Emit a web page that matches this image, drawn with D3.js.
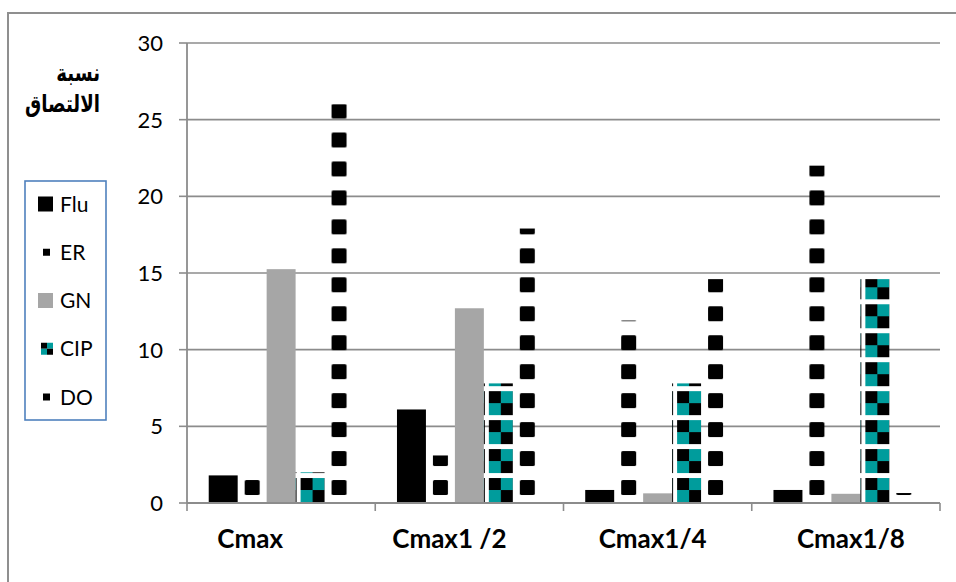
<!DOCTYPE html>
<html>
<head>
<meta charset="utf-8">
<script src="https://cdn.jsdelivr.net/npm/d3@7"></script>
<style>
  html, body { margin: 0; padding: 0; background: #fff; }
  svg { display: block; }
</style>
</head>
<body>
<svg id="chart" width="956" height="582"></svg>
<script>
// Adhesion ratio per antibiotic at each concentration
const categories = ["Cmax", "Cmax1 /2", "Cmax1/4", "Cmax1/8"];
const seriesNames = ["Flu", "ER", "GN", "CIP", "DO"];
const fluValues = [1.8, 6.1, 0.85, 0.85];
const erValues = [1.6, 3.1, 11.9, 22.0];
const gnValues = [15.25, 12.7, 0.63, 0.6];
const cipValues = [2.0, 7.8, 7.8, 14.6];
const doValues = [26.0, 17.9, 14.6, 0.65];
const yTickValues = [0, 5, 10, 15, 20, 25, 30];
const titleLines = ["نسبة", "الالتصاق"];

const seriesValues = [fluValues, erValues, gnValues, cipValues, doValues];

// fill kinds: solid, dotted squares, checker tiles
const fillKind = { Flu: "solid", ER: "dots", GN: "solid", CIP: "checker", DO: "dots" };
const solidColor = { Flu: "#000000", GN: "#a6a6a6" };
const teal = "#009c9c";
const gridColor = "#8c8c8c";

const svg = d3.select("#chart");
svg.append("rect").attr("width", 956).attr("height", 582).attr("fill", "#fff");

// outer frame
svg.append("path")
  .attr("d", "M8,582V13H956")
  .attr("fill", "none")
  .attr("stroke", "#8f8f8f")
  .attr("stroke-width", 2);

const plot = { left: 187, right: 940, top: 43, bottom: 503 };

const y = d3.scaleLinear().domain([0, 30]).range([plot.bottom, plot.top]);
const x0 = d3.scaleBand().domain(categories).range([plot.left, plot.right]).paddingInner(0).paddingOuter(0);
const x1 = d3.scaleBand().domain(seriesNames).range([0, x0.bandwidth()]).paddingInner(0).paddingOuter(0.75);

// gridlines
svg.append("g").selectAll("line")
  .data(yTickValues.filter(d => d > 0))
  .join("line")
  .attr("x1", plot.left).attr("x2", plot.right)
  .attr("y1", d => y(d)).attr("y2", d => y(d))
  .attr("stroke", gridColor).attr("stroke-width", 1.6);

// patterns, one per patterned bar so each tile lines up with its bar
const defs = svg.append("defs");
const bw = x1.bandwidth();
const tile = bw;
const rows = [];
categories.forEach((c, ci) => {
  seriesNames.forEach((s, si) => {
    rows.push({ cat: c, ci, series: s, value: seriesValues[si][ci] });
  });
});

rows.filter(r => fillKind[r.series] !== "solid").forEach(r => {
  const bx = x0(r.cat) + x1(r.series);
  const p = defs.append("pattern")
    .attr("id", `pat-${r.series}-${r.ci}`)
    .attr("patternUnits", "userSpaceOnUse")
    .attr("x", bx).attr("y", y(0))
    .attr("width", tile).attr("height", tile);
  if (fillKind[r.series] === "dots") {
    p.append("rect")
      .attr("x", 7).attr("y", 6).attr("width", 15).attr("height", 15)
      .attr("rx", 1.5).attr("fill", "#000");
  } else {
    const c = 12, ox = 5, oy = 4;
    p.append("rect").attr("x", ox).attr("y", oy).attr("width", c).attr("height", c).attr("fill", "#000");
    p.append("rect").attr("x", ox + c).attr("y", oy).attr("width", c).attr("height", c).attr("fill", teal);
    p.append("rect").attr("x", ox).attr("y", oy + c).attr("width", c).attr("height", c).attr("fill", teal);
    p.append("rect").attr("x", ox + c).attr("y", oy + c).attr("width", c).attr("height", c).attr("fill", "#000");
    p.append("rect").attr("x", 0).attr("y", oy).attr("width", 1).attr("height", 2 * c).attr("fill", "#000");
  }
});

// bars
svg.append("g").selectAll("rect")
  .data(rows)
  .join("rect")
  .attr("x", d => x0(d.cat) + x1(d.series))
  .attr("y", d => y(d.value))
  .attr("width", bw)
  .attr("height", d => y(0) - y(d.value))
  .attr("fill", d => fillKind[d.series] === "solid" ? solidColor[d.series] : `url(#pat-${d.series}-${d.ci})`);

// y axis
const axisColor = "#8c8c8c";
svg.append("line")
  .attr("x1", plot.left).attr("x2", plot.left)
  .attr("y1", plot.top).attr("y2", plot.bottom)
  .attr("stroke", axisColor).attr("stroke-width", 1.8);
svg.append("g").selectAll("line")
  .data(yTickValues)
  .join("line")
  .attr("x1", plot.left - 8).attr("x2", plot.left)
  .attr("y1", d => y(d)).attr("y2", d => y(d))
  .attr("stroke", axisColor).attr("stroke-width", 1.6);
svg.append("g").selectAll("text")
  .data(yTickValues)
  .join("text")
  .attr("x", 163).attr("y", d => y(d))
  .attr("dy", "0.36em")
  .attr("text-anchor", "end")
  .attr("font-family", "Lato, 'Open Sans', sans-serif")
  .attr("font-size", 22)
  .attr("fill", "#000")
  .text(d => d);

// x axis
svg.append("line")
  .attr("x1", plot.left).attr("x2", plot.right)
  .attr("y1", plot.bottom).attr("y2", plot.bottom)
  .attr("stroke", axisColor).attr("stroke-width", 1.8);
const boundaries = categories.map(c => x0(c)).concat([plot.right]);
svg.append("g").selectAll("line")
  .data(boundaries)
  .join("line")
  .attr("x1", d => d).attr("x2", d => d)
  .attr("y1", plot.bottom).attr("y2", plot.bottom + 8)
  .attr("stroke", axisColor).attr("stroke-width", 1.6);

// category labels sit a little off-centre in the original layout
const labelShift = [-31, -20, -5, 5];
svg.append("g").selectAll("text")
  .data(categories)
  .join("text")
  .attr("x", (d, i) => x0(d) + x0.bandwidth() / 2 + labelShift[i])
  .attr("y", 548)
  .attr("text-anchor", "middle")
  .attr("font-family", "Lato, sans-serif")
  .attr("font-weight", "bold")
  .attr("font-size", 26)
  .attr("fill", "#000")
  .style("white-space", "pre")
  .text(d => d);

// title: two Arabic lines, right edges aligned, narrowed to fit the margin
const titleRight = 100, titleWidth = 75;
const titleTexts = svg.append("g").selectAll("text")
  .data(titleLines)
  .join("text")
  .attr("x", 0)
  .attr("y", (d, i) => 81 + i * 31)
  .attr("font-family", "'DejaVu Sans', sans-serif")
  .attr("font-weight", "bold")
  .attr("font-size", 24)
  .attr("fill", "#000")
  .text(d => d);
const widest = d3.max(titleTexts.nodes(), n => n.getBBox().width);
const sx = Math.min(1, titleWidth / widest);
titleTexts.attr("transform", function () {
  const b = this.getBBox();
  return `translate(${titleRight},0) scale(${sx},1) translate(${-(b.x + b.width)},0)`;
});

// legend
const legend = svg.append("g");
legend.append("rect")
  .attr("x", 25).attr("y", 181).attr("width", 81).attr("height", 239)
  .attr("fill", "#fff").attr("stroke", "#4f81bd").attr("stroke-width", 1.6);
const legendY = d3.scalePoint().domain(seriesNames).range([204, 397]);
const items = legend.selectAll("g.item")
  .data(seriesNames)
  .join("g")
  .attr("class", "item")
  .attr("transform", d => `translate(0,${legendY(d)})`);
items.each(function (s) {
  const g = d3.select(this);
  const k = fillKind[s];
  if (k === "solid") {
    g.append("rect").attr("x", 38).attr("y", -7.5).attr("width", 15).attr("height", 15).attr("fill", solidColor[s]);
  } else if (k === "dots") {
    g.append("rect").attr("x", 43).attr("y", -3.5).attr("width", 7).attr("height", 7).attr("fill", "#000");
  } else {
    g.append("rect").attr("x", 41).attr("y", -6).attr("width", 6).attr("height", 6).attr("fill", "#000");
    g.append("rect").attr("x", 47).attr("y", -6).attr("width", 6).attr("height", 6).attr("fill", teal);
    g.append("rect").attr("x", 41).attr("y", 0).attr("width", 6).attr("height", 6).attr("fill", teal);
    g.append("rect").attr("x", 47).attr("y", 0).attr("width", 6).attr("height", 6).attr("fill", "#000");
  }
  g.append("text")
    .attr("x", 60).attr("y", 0).attr("dy", "0.36em")
    .attr("font-family", "Lato, sans-serif")
    .attr("font-size", 21)
    .attr("fill", "#000")
    .text(s);
});
</script>
</body>
</html>
